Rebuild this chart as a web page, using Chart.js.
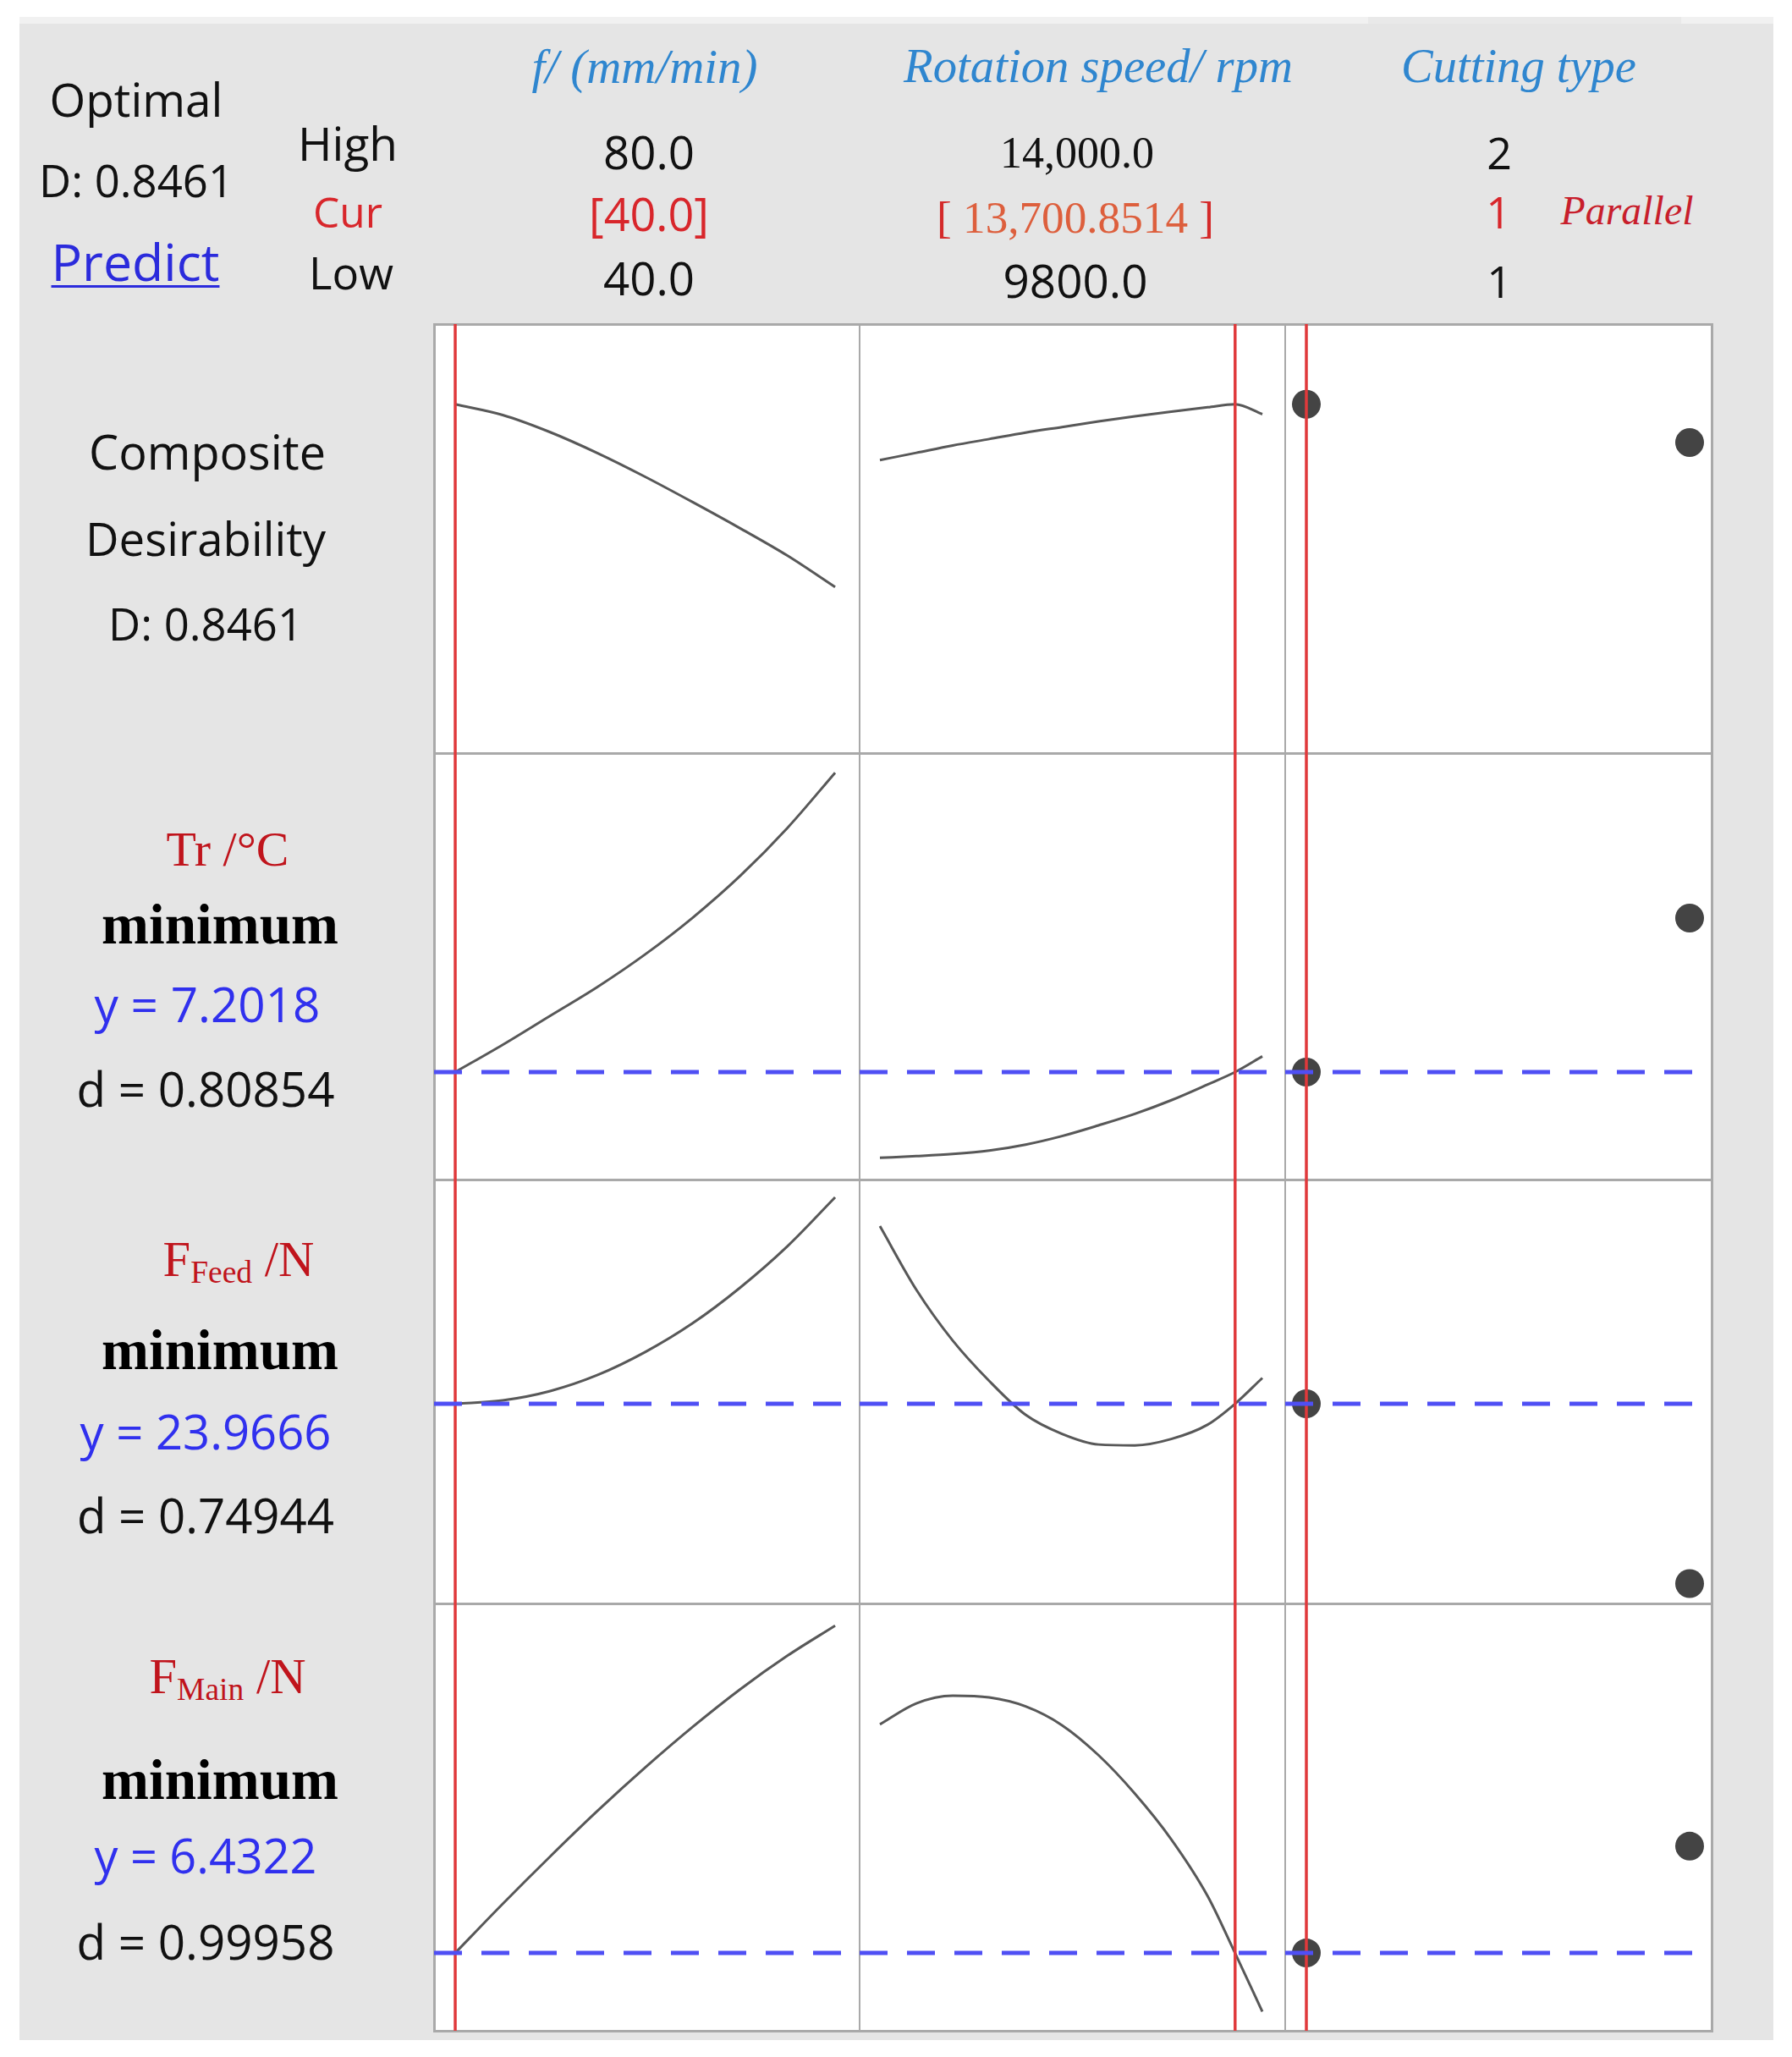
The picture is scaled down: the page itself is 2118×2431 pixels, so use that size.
<!DOCTYPE html>
<html>
<head>
<meta charset="utf-8">
<script src="https://cdn.jsdelivr.net/npm/chart.js@4.4.1/dist/chart.umd.min.js"></script>
<style>
  html, body { margin: 0; padding: 0; background: #ffffff; }
  #page { position: relative; width: 2118px; height: 2431px; overflow: hidden; background: #ffffff; }
  .blk { position: absolute; }
</style>
</head>
<body>
<div id="page"></div>
<script>
// ---------------- DATA ----------------
const factorLabels = ["f/ (mm/min)", "Rotation speed/ rpm", "Cutting type"];
const factorHigh = ["80.0", "14,000.0", "2"];
const factorCur = ["40.0", "13,700.8514", "1"];
const factorLow = ["40.0", "9800.0", "1"];
const cuttingTypeName = "Parallel";
const compositeD = "0.8461";
const responseGoal = ["minimum", "minimum", "minimum"];
const responseY = ["7.2018", "23.9666", "6.4322"];
const responseD = ["0.80854", "0.74944", "0.99958"];

// factor grids
const feedRate = [40, 45, 50, 55, 60, 65, 70, 75, 80];
const rotationSpeed = [9800, 10200, 10600, 11000, 11400, 11800, 12200, 12600, 13000, 13400, 13700, 14000];
const cuttingType = [1, 2];
const currentSetting = [40.0, 13700.8514, 1];

// response traces, as % of each panel's height (no y scale is printed)
const compositeByFeed  = [81.3, 78.8, 74.8, 69.9, 64.4, 58.5, 52.4, 46.0, 38.7];
const compositeBySpeed = [68.3, 70.0, 71.7, 73.2, 74.7, 76.0, 77.3, 78.5, 79.6, 80.6, 81.3, 79.0];
const compositeByType  = [81.3, 72.4];

const trByFeed  = [25.2, 31.6, 38.4, 45.2, 52.8, 61.4, 71.2, 82.5, 95.4];
const trBySpeed = [5.1, 5.5, 6.0, 6.8, 8.2, 10.2, 12.7, 15.4, 18.6, 22.3, 25.2, 28.9];
const trByType  = [25.2, 61.3];

const feedForceByFeed  = [47.1, 47.9, 50.1, 53.9, 59.3, 66.1, 74.5, 84.3, 95.8];
const feedForceBySpeed = [89.0, 74.0, 62.0, 52.5, 44.5, 40.0, 37.5, 37.3, 38.8, 42.2, 47.1, 53.2];
const feedForceByType  = [47.1, 4.7];

const mainForceByFeed  = [18.2, 29.7, 40.8, 51.5, 61.6, 71.1, 79.9, 87.8, 94.8];
const mainForceBySpeed = [71.7, 76.6, 78.4, 78.0, 75.9, 71.5, 64.5, 55.5, 44.8, 31.5, 18.2, 4.5];
const mainForceByType  = [18.2, 43.2];

const currentLevel = [81.3, 25.2, 47.1, 18.2];

// ---------------- LAYOUT ----------------
const page = document.getElementById('page');
const colEdges = [513, 1016, 1519, 2023];
const rowEdges = [383, 890, 1394, 1895, 2400];
const xRanges = [[37.77, 82.58], [9577, 14251], [0.9448, 2.0574]];

function block(l, t, w, h, bg) {
  const d = document.createElement('div');
  d.className = 'blk';
  d.style.left = l + 'px'; d.style.top = t + 'px';
  d.style.width = w + 'px'; d.style.height = h + 'px';
  d.style.background = bg;
  page.appendChild(d);
  return d;
}
// background frame
block(23, 20, 2073, 8, '#f1f1f1');
block(1617, 20, 370, 8, '#e9e9e9');
block(23, 28, 2073, 2383, '#e5e5e5');
// plot area
block(colEdges[0], rowEdges[0], colEdges[3] - colEdges[0], rowEdges[4] - rowEdges[0], '#ffffff');
// panel grid lines
const GRID = '#a9a9a9';
rowEdges.forEach((y) => {
  block(colEdges[0] - 1, y - 1, colEdges[3] - colEdges[0] + 3, 3, GRID);
});
colEdges.forEach((x, i) => {
  const th = (i === 0 || i === 3) ? 3 : 2;
  block(x - 1, rowEdges[0], th, rowEdges[4] - rowEdges[0] + 1, GRID);
});

// ---------------- CHARTS ----------------
const rowsData = [
  [compositeByFeed, compositeBySpeed, compositeByType],
  [trByFeed, trBySpeed, trByType],
  [feedForceByFeed, feedForceBySpeed, feedForceByType],
  [mainForceByFeed, mainForceBySpeed, mainForceByType]
];
const xValues = [feedRate, rotationSpeed, cuttingType];
const RED = '#e0393b', BLUE = '#4f4ff4', CURVE = '#585858', MARK = '#444444';

for (let r = 0; r < 4; r++) {
  for (let c = 0; c < 3; c++) {
    const w = colEdges[c + 1] - colEdges[c];
    const h = rowEdges[r + 1] - rowEdges[r];
    const cv = document.createElement('canvas');
    cv.width = w; cv.height = h;
    cv.style.position = 'absolute';
    cv.style.left = colEdges[c] + 'px';
    cv.style.top = rowEdges[r] + 'px';
    cv.style.width = w + 'px'; cv.style.height = h + 'px';
    page.appendChild(cv);

    const datasets = [];
    if (r > 0) {
      datasets.push({
        data: [{ x: xRanges[c][0], y: currentLevel[r] }, { x: xRanges[c][1], y: currentLevel[r] }],
        showLine: true, borderColor: BLUE, borderWidth: 5, borderDash: [33, 23],
        pointRadius: 0, order: 0
      });
    }
    datasets.push({
      data: [{ x: currentSetting[c], y: 0 }, { x: currentSetting[c], y: 100 }],
      showLine: true, borderColor: RED, borderWidth: 3.5, pointRadius: 0, order: 1
    });
    if (c < 2) {
      datasets.push({
        data: xValues[c].map((x, i) => ({ x: x, y: rowsData[r][c][i] })),
        showLine: true, borderColor: CURVE, borderWidth: 3, pointRadius: 0,
        cubicInterpolationMode: 'monotone', order: 2
      });
    } else {
      datasets.push({
        data: cuttingType.map((x, i) => ({ x: x, y: rowsData[r][2][i] })),
        showLine: false, pointRadius: 17, pointBackgroundColor: MARK,
        pointBorderColor: MARK, pointBorderWidth: 0, order: 2
      });
    }

    new Chart(cv, {
      type: 'scatter',
      data: { datasets: datasets },
      options: {
        responsive: false, animation: false, devicePixelRatio: 1, events: [],
        layout: { padding: 0, autoPadding: false },
        plugins: { legend: { display: false }, tooltip: { enabled: false } },
        scales: {
          x: { type: 'linear', display: false, min: xRanges[c][0], max: xRanges[c][1] },
          y: { type: 'linear', display: false, min: 0, max: 100 }
        }
      }
    });
  }
}

// ---------------- TEXT ----------------
const SANS = '"Open Sans", "Noto Sans", sans-serif';
const SERIF = '"Liberation Serif", "Times New Roman", serif';
const BLACK = '#111111', UIRED = '#d8262b', LINK = '#2b2bdc', YBLUE = '#3030ee',
      HEAD = '#2f86cf', ORANGE = '#dd5f3d', DRED = '#c0141c', PRED = '#c81e2c';

function addText(t) {
  const el = document.createElement('div');
  el.style.cssText = 'position:absolute;left:0;top:0;white-space:nowrap;line-height:1.2;' +
    'font-family:' + t.font + ';font-size:' + t.size + 'px;color:' + t.color + ';' +
    'font-weight:' + (t.weight || (t.font === SANS ? 500 : 400)) + ';' +
    'font-style:' + (t.italic ? 'italic' : 'normal') + ';' + (t.extra || '');
  el.innerHTML = t.html + '<span style="display:inline-block;width:0;height:0;vertical-align:baseline"></span>';
  page.appendChild(el);
  if (t.w) {
    const w0 = el.getBoundingClientRect().width;
    el.style.fontSize = (t.size * t.w / w0) + 'px';
  }
  const rr = el.getBoundingClientRect();
  const m = el.lastChild.getBoundingClientRect();
  el.style.left = (t.cx - rr.width / 2) + 'px';
  el.style.top = (t.base - (m.top - rr.top)) + 'px';
}

const sub = (s) => '<span style="font-size:0.64em;position:relative;top:0.2em">' + s + '</span>';

const texts = [
  { html: 'Optimal', cx: 161, base: 138, w: 205, size: 54, font: SANS, color: BLACK },
  { html: 'D: ' + compositeD, cx: 161, base: 233, w: 230, size: 54, font: SANS, color: BLACK },
  { html: 'Predict', cx: 160, base: 332, w: 199, size: 58, font: SANS, color: LINK,
    extra: 'text-decoration:underline;text-decoration-thickness:3px;text-underline-offset:5px;' },
  { html: 'High', cx: 411, base: 190, w: 118, size: 54, font: SANS, color: BLACK },
  { html: 'Cur', cx: 411, base: 269, w: 82, size: 54, font: SANS, color: UIRED },
  { html: 'Low', cx: 415, base: 342, w: 100, size: 54, font: SANS, color: BLACK },

  { html: factorLabels[0], cx: 762, base: 98, w: 267, size: 56, font: SERIF, color: HEAD, italic: true },
  { html: factorLabels[1], cx: 1298, base: 97, w: 460, size: 56, font: SERIF, color: HEAD, italic: true },
  { html: factorLabels[2], cx: 1795, base: 97, w: 278, size: 56, font: SERIF, color: HEAD, italic: true },

  { html: factorHigh[0], cx: 767, base: 200, w: 108, size: 52, font: SANS, color: BLACK },
  { html: '[' + factorCur[0] + ']', cx: 767, base: 273, w: 142, size: 52, font: SANS, color: UIRED },
  { html: factorLow[0], cx: 767, base: 349, w: 108, size: 52, font: SANS, color: BLACK },

  { html: factorHigh[1], cx: 1273, base: 198, w: 182, size: 52, font: SERIF, color: BLACK },
  { html: '<span style="color:#d42a2a">[</span> ' + factorCur[1] + ' <span style="color:#d42a2a">]</span>',
    cx: 1271, base: 275, w: 328, size: 54, font: SERIF, color: ORANGE },
  { html: factorLow[1], cx: 1271, base: 352, w: 171, size: 52, font: SANS, color: BLACK },

  { html: factorHigh[2], cx: 1772, base: 200, size: 52, font: SANS, color: BLACK },
  { html: factorCur[2], cx: 1771, base: 270, size: 52, font: SANS, color: UIRED },
  { html: cuttingTypeName, cx: 1923, base: 265, w: 157, size: 48, font: SERIF, color: PRED, italic: true },
  { html: factorLow[2], cx: 1772, base: 352, size: 52, font: SANS, color: BLACK },

  { html: 'Composite', cx: 245, base: 555, w: 280, size: 54, font: SANS, color: BLACK },
  { html: 'Desirability', cx: 243, base: 657, w: 284, size: 54, font: SANS, color: BLACK },
  { html: 'D: ' + compositeD, cx: 243, base: 757, w: 230, size: 54, font: SANS, color: BLACK },

  { html: 'Tr /°C', cx: 269, base: 1023, w: 145, size: 56, font: SERIF, color: DRED },
  { html: responseGoal[0], cx: 260, base: 1115, w: 280, size: 68, font: SERIF, color: '#000000', weight: 700 },
  { html: 'y = ' + responseY[0], cx: 245, base: 1208, w: 267, size: 54, font: SANS, color: YBLUE },
  { html: 'd = ' + responseD[0], cx: 243, base: 1308, w: 305, size: 54, font: SANS, color: BLACK },

  { html: 'F' + sub('Feed') + ' /N', cx: 282, base: 1508, w: 179, size: 57, font: SERIF, color: DRED },
  { html: responseGoal[1], cx: 260, base: 1618, w: 280, size: 68, font: SERIF, color: '#000000', weight: 700 },
  { html: 'y = ' + responseY[1], cx: 243, base: 1713, w: 297, size: 54, font: SANS, color: YBLUE },
  { html: 'd = ' + responseD[1], cx: 243, base: 1812, w: 304, size: 54, font: SANS, color: BLACK },

  { html: 'F' + sub('Main') + ' /N', cx: 269, base: 2001, w: 185, size: 57, font: SERIF, color: DRED },
  { html: responseGoal[2], cx: 260, base: 2126, w: 280, size: 68, font: SERIF, color: '#000000', weight: 700 },
  { html: 'y = ' + responseY[2], cx: 243, base: 2214, w: 263, size: 54, font: SANS, color: YBLUE },
  { html: 'd = ' + responseD[2], cx: 243, base: 2316, w: 305, size: 54, font: SANS, color: BLACK }
];
texts.forEach(addText);
</script>
</body>
</html>
